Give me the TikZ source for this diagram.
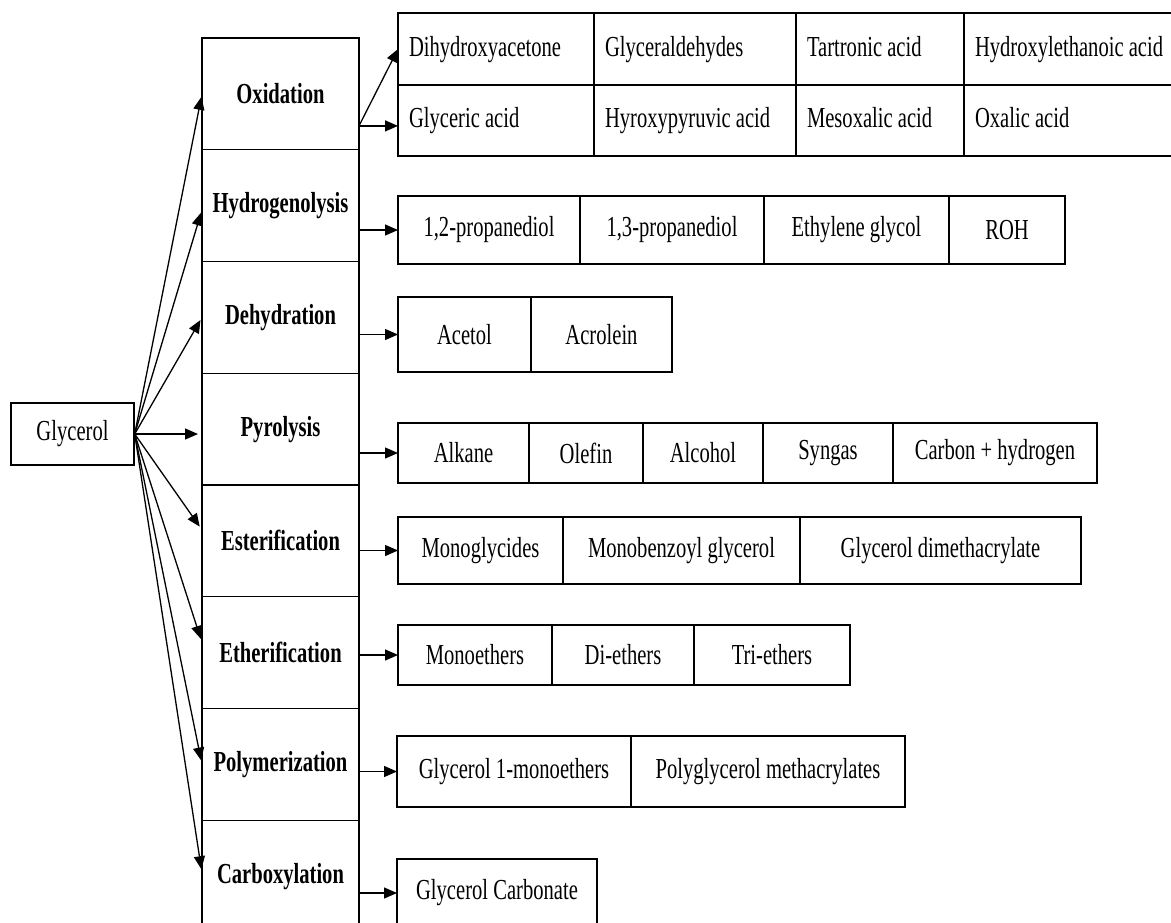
\documentclass[tikz,border=0pt]{standalone}
\usepackage{fontspec}
\setmainfont{Liberation Serif}[FakeStretch=0.71]
\usepackage{tikz}
\usetikzlibrary{arrows.meta,positioning}

\begin{document}
\fontsize{29}{34}\selectfont
\begin{tikzpicture}[x=1pt,y=-1pt,line width=1.4pt,
	flow/.style={-{Triangle[length=13pt,width=11pt]},line width=1.3pt},
	main node/.style={draw,inner sep=0pt,outer sep=0pt,minimum width=157pt,minimum height=111.75pt,font=\bfseries},
	prod node/.style 2 args={draw,inner sep=0pt,outer sep=0pt,minimum width=#1,minimum height=#2},
	ox node/.style={draw,inner sep=0pt,inner xsep=11pt,outer sep=0pt,text width=#1-22pt,align=flush left,text height=20pt,text depth=6pt,minimum height=72pt}]

	\useasboundingbox (0,0) rectangle (1171,922);
	\clip (0,0) rectangle (1171,922);

	\node[draw,inner sep=0pt,minimum width=123pt,minimum height=62pt] (gly) at (72.5,434) {Glycerol};

	\node[main node] (ox) at (280.5,93.9) {Oxidation};
	\node[main node] (hy) [below=0pt of ox] {Hydrogenolysis};
	\node[main node] (de) [below=0pt of hy] {Dehydration};
	\node[main node] (py) [below=0pt of de] {Pyrolysis};
	\node[main node] (es) [below=0pt of py] {Esterification};
	\node[main node] (et) [below=0pt of es] {Etherification};
	\node[main node] (po) [below=0pt of et] {Polymerization};
	\node[main node] (ca) [below=0pt of po] {Carboxylation};

	\node[ox node=196pt,anchor=north west] (ox1) at (398,13) {Dihydroxyacetone};
	\node[ox node=202pt] (ox2) [right=0pt of ox1] {Glyceraldehydes};
	\node[ox node=168pt] (ox3) [right=0pt of ox2] {Tartronic acid};
	\node[ox node=214pt] (ox4) [right=0pt of ox3] {Hydroxylethanoic acid};
	\node[ox node=196pt,minimum height=71pt] (ox5) [below=0pt of ox1] {Glyceric acid};
	\node[ox node=202pt,minimum height=71pt] (ox6) [right=0pt of ox5] {Hyroxypyruvic acid};
	\node[ox node=168pt,minimum height=71pt] (ox7) [right=0pt of ox6] {Mesoxalic acid};
	\node[ox node=214pt,minimum height=71pt] (ox8) [right=0pt of ox7] {Oxalic acid};

	\node[prod node={182pt}{68pt},anchor=north west] (hy1) at (398,196) {1,2-propanediol};
	\node[prod node={184pt}{68pt}] (hy2) [right=0pt of hy1] {1,3-propanediol};
	\node[prod node={185pt}{68pt}] (hy3) [right=0pt of hy2] {Ethylene glycol};
	\node[prod node={116pt}{68pt}] (hy4) [right=0pt of hy3] {ROH};

	\node[prod node={133pt}{75pt},anchor=north west] (de1) at (398,297) {Acetol};
	\node[prod node={141pt}{75pt}] (de2) [right=0pt of de1] {Acrolein};

	\node[prod node={131pt}{60pt},anchor=north west] (py1) at (398,423) {Alkane};
	\node[prod node={114pt}{60pt}] (py2) [right=0pt of py1] {Olefin};
	\node[prod node={120pt}{60pt}] (py3) [right=0pt of py2] {Alcohol};
	\node[prod node={130pt}{60pt}] (py4) [right=0pt of py3] {Syngas};
	\node[prod node={204pt}{60pt}] (py5) [right=0pt of py4] {Carbon + hydrogen};

	\node[prod node={165pt}{67pt},anchor=north west] (es1) at (398,517) {Monoglycides};
	\node[prod node={237pt}{67pt}] (es2) [right=0pt of es1] {Monobenzoyl glycerol};
	\node[prod node={281pt}{67pt}] (es3) [right=0pt of es2] {Glycerol dimethacrylate};

	\node[prod node={154pt}{60pt},anchor=north west] (et1) at (398,625) {Monoethers};
	\node[prod node={142pt}{60pt}] (et2) [right=0pt of et1] {Di-ethers};
	\node[prod node={156pt}{60pt}] (et3) [right=0pt of et2] {Tri-ethers};

	\node[prod node={234pt}{71pt},anchor=north west] (po1) at (397,736) {Glycerol 1-monoethers};
	\node[prod node={274pt}{71pt}] (po2) [right=0pt of po1] {Polyglycerol methacrylates};

	\node[prod node={200pt}{68pt},anchor=north west] (ca1) at (397,859) {Glycerol Carbonate};

	\draw[flow,shorten >=3pt] (gly.east) -- (ox.west);
	\draw[flow,shorten >=3pt] (gly.east) -- ([yshift=-4pt]hy.west);
	\draw[flow,shorten >=3pt] (gly.east) -- (de.west);
	\draw[flow,shorten >=4pt] (gly.east) -- (gly.east -| py.west);
	\draw[flow,shorten >=4pt] (gly.east) -- ([yshift=11pt]es.west);
	\draw[flow,shorten >=4pt] (gly.east) -- ([yshift=10pt]et.west);
	\draw[flow,shorten >=4pt] (gly.east) -- (po.west);
	\draw[flow,shorten >=4pt] (gly.east) -- ([yshift=3pt]ca.west);

	\coordinate (oxs) at ([yshift=-32pt]ox.east);
	\draw[flow] (oxs) -- (ox1.west);
	\draw[flow] (oxs) -- (oxs -| ox5.west);
	\draw[flow] (hy.east |- hy1.west) -- (hy1.west);
	\draw[flow] (de.east |- de1.west) -- (de1.west);
	\draw[flow] (py.east |- py1.west) -- (py1.west);
	\draw[flow] (es.east |- es1.west) -- (es1.west);
	\draw[flow] (et.east |- et1.west) -- (et1.west);
	\draw[flow] (po.east |- po1.west) -- (po1.west);
	\draw[flow] (ca.east |- ca1.west) -- (ca1.west);
\end{tikzpicture}
\end{document}
